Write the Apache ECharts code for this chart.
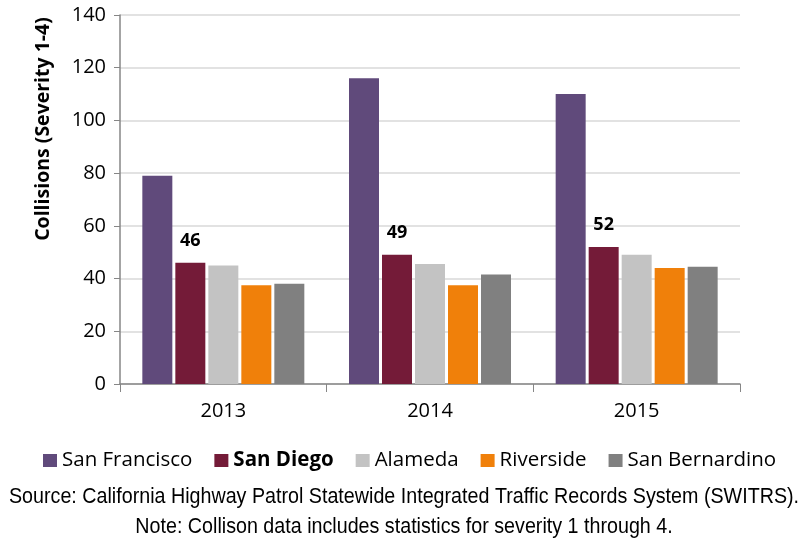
<!DOCTYPE html>
<html>
<head>
<meta charset="utf-8">
<script src="https://cdn.jsdelivr.net/npm/echarts@6/dist/echarts.min.js"></script>
<style>
  html, body { margin: 0; padding: 0; background: #fff; }
  #main { width: 800px; height: 544px; }
</style>
</head>
<body>
<div id="main"></div>
<script>
var years = ['2013', '2014', '2015'];
var seriesNames = ['San Francisco', 'San Diego', 'Alameda', 'Riverside', 'San Bernardino'];
var sanFrancisco = [79, 116, 110];
var sanDiego = [46, 49, 52];
var alameda = [45, 45.5, 49];
var riverside = [37.5, 37.5, 44];
var sanBernardino = [38, 41.5, 44.5];
var colors = ['#604a7b', '#741b38', '#c3c3c3', '#f0800a', '#808080'];

var chart = echarts.init(document.getElementById('main'));
var font = '"Open Sans", sans-serif';
var noteFont = '"Liberation Sans Narrow", "Liberation Sans", sans-serif';

function bar(name, data, color, showLabel) {
    return {
        name: name,
        type: 'bar',
        barWidth: 30,
        barGap: '10%',
        data: data,
        itemStyle: { color: color },
        label: {
            show: showLabel,
            position: 'top',
            distance: 13,
            fontFamily: font,
            fontWeight: 'bold',
            fontSize: 18,
            color: '#000',
            formatter: function (p) { return Math.round(p.value); }
        }
    };
}

var option = {
    animation: false,
    color: colors,
    grid: { left: 120, right: 60, top: 15, bottom: 160 },
    legend: {
        top: 445,
        left: 38,
        itemWidth: 14,
        itemHeight: 13,
        itemGap: 22,
        icon: 'rect',
        textStyle: {
            fontFamily: font,
            fontSize: 20.5,
            color: '#000',
            rich: { b: { fontFamily: font, fontSize: 20.5, fontWeight: 'bold', color: '#000' } }
        },
        formatter: function (name) {
            return name === 'San Diego' ? '{b|' + name + '}' : name;
        },
        data: seriesNames
    },
    xAxis: {
        type: 'category',
        data: years,
        axisLine: { lineStyle: { color: '#868686', width: 1.5 } },
        axisTick: { show: true, length: 8, lineStyle: { color: '#868686' } },
        axisLabel: { fontFamily: font, fontSize: 20, color: '#000', margin: 17 }
    },
    yAxis: {
        type: 'value',
        min: 0,
        max: 140,
        interval: 20,
        axisLine: { show: true, lineStyle: { color: '#868686', width: 1.5 } },
        axisTick: { show: true, length: 6, lineStyle: { color: '#868686' } },
        splitLine: { lineStyle: { color: '#d9d9d9', width: 1.5 } },
        axisLabel: { fontFamily: font, fontSize: 20, color: '#000', margin: 14 }
    },
    graphic: [
        {
            type: 'text',
            x: 43, y: 129,
            rotation: Math.PI / 2,
            style: {
                text: 'Collisions (Severity 1-4)',
                fontFamily: font,
                fontWeight: 'bold',
                fontSize: 19.5,
                fill: '#000',
                textAlign: 'center',
                textVerticalAlign: 'middle'
            }
        },
        {
            type: 'text',
            x: 404, y: 497,
            scaleX: 0.895,
            style: {
                text: 'Source: California Highway Patrol Statewide Integrated Traffic Records System (SWITRS).',
                fontFamily: noteFont,
                fontSize: 22,
                fill: '#000',
                textAlign: 'center',
                textVerticalAlign: 'middle'
            }
        },
        {
            type: 'text',
            x: 404, y: 527,
            scaleX: 0.895,
            style: {
                text: 'Note: Collison data includes statistics for severity 1 through 4.',
                fontFamily: noteFont,
                fontSize: 22,
                fill: '#000',
                textAlign: 'center',
                textVerticalAlign: 'middle'
            }
        }
    ],
    series: [
        bar(seriesNames[0], sanFrancisco, colors[0], false),
        bar(seriesNames[1], sanDiego, colors[1], true),
        bar(seriesNames[2], alameda, colors[2], false),
        bar(seriesNames[3], riverside, colors[3], false),
        bar(seriesNames[4], sanBernardino, colors[4], false)
    ]
};
chart.setOption(option);
</script>
</body>
</html>
